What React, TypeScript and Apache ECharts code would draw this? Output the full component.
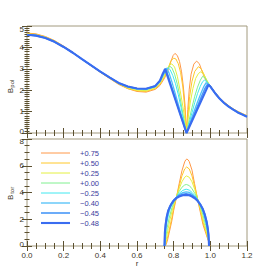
import React, { useEffect, useRef } from 'react';
import * as echarts from 'echarts';

const names = ['+0.75', '+0.50', '+0.25', '+0.00', '\u22120.25', '\u22120.40', '\u22120.45', '\u22120.48'];
const colors = ['#ff9848', '#ffc828', '#e4f040', '#80f090', '#40e8f0', '#50c0f8', '#4898f8', '#3a6cf0'];
const widths = [1, 1, 1, 1, 1, 1.3, 1.6, 2.1];

const xTickValues = [0, 0.2, 0.4, 0.6, 0.8, 1.0, 1.2];

// shared r samples for the smooth inner and outer parts of B_pol
const rInner = [0, 0.05, 0.1, 0.15, 0.2, 0.25, 0.3, 0.35, 0.4, 0.45, 0.5, 0.55, 0.6, 0.65, 0.7];
const rOuter = [1.025, 1.05, 1.075, 1.1, 1.125, 1.15, 1.175, 1.2];

const bpolInnerP075 = [4.67, 4.63, 4.51, 4.32, 4.06, 3.77, 3.45, 3.14, 2.84, 2.55, 2.27, 2.07, 1.94, 1.91, 2.04];
const bpolInnerP050 = [4.65, 4.61, 4.49, 4.31, 4.05, 3.77, 3.45, 3.14, 2.84, 2.56, 2.29, 2.08, 1.97, 1.94, 2.08];
const bpolInnerP025 = [4.63, 4.59, 4.48, 4.29, 4.04, 3.76, 3.45, 3.15, 2.85, 2.58, 2.30, 2.11, 2.00, 1.98, 2.11];
const bpolInnerP000 = [4.61, 4.57, 4.46, 4.28, 4.03, 3.76, 3.45, 3.15, 2.86, 2.59, 2.32, 2.14, 2.04, 2.02, 2.15];
const bpolInnerM025 = [4.60, 4.56, 4.45, 4.27, 4.03, 3.75, 3.45, 3.16, 2.86, 2.59, 2.33, 2.15, 2.06, 2.04, 2.17];
const bpolInnerM040 = [4.59, 4.55, 4.44, 4.26, 4.02, 3.75, 3.45, 3.16, 2.87, 2.60, 2.33, 2.16, 2.07, 2.06, 2.18];
const bpolInnerM045 = [4.59, 4.55, 4.44, 4.26, 4.02, 3.75, 3.45, 3.16, 2.87, 2.60, 2.34, 2.17, 2.08, 2.07, 2.19];
const bpolInnerM048 = [4.59, 4.55, 4.44, 4.26, 4.02, 3.75, 3.45, 3.16, 2.87, 2.60, 2.34, 2.17, 2.08, 2.07, 2.20];

const bpolCoreP075 = [[0.725, 2.22], [0.75, 2.56], [0.77, 2.95], [0.785, 3.34], [0.797, 3.62], [0.807, 3.72], [0.82, 3.62], [0.832, 3.34], [0.843, 2.86], [0.853, 2.15], [0.862, 1.3], [0.87, 0], [0.877, 1.1], [0.885, 2.05], [0.895, 2.75], [0.91, 3.22], [0.925, 3.36], [0.94, 3.24], [0.955, 2.88], [0.97, 2.55], [0.985, 2.33], [1.0, 2.21]];
const bpolCoreP050 = [[0.725, 2.27], [0.75, 2.63], [0.77, 3.03], [0.785, 3.37], [0.8, 3.5], [0.812, 3.46], [0.825, 3.24], [0.838, 2.82], [0.85, 2.15], [0.86, 1.2], [0.87, 0], [0.878, 0.85], [0.887, 1.7], [0.9, 2.42], [0.915, 2.88], [0.935, 3.1], [0.95, 3.0], [0.965, 2.75], [0.98, 2.44], [0.993, 2.25], [1.0, 2.19]];
const bpolCoreP025 = [[0.725, 2.31], [0.75, 2.7], [0.765, 3.0], [0.78, 3.2], [0.79, 3.23], [0.805, 3.08], [0.82, 2.65], [0.835, 2.0], [0.85, 1.25], [0.86, 0.7], [0.87, 0], [0.88, 0.75], [0.89, 1.4], [0.905, 2.08], [0.92, 2.55], [0.935, 2.78], [0.948, 2.86], [0.962, 2.77], [0.978, 2.52], [0.993, 2.29], [1.0, 2.2]];
const bpolCoreP000 = [[0.725, 2.36], [0.745, 2.69], [0.762, 2.96], [0.778, 3.12], [0.79, 3.05], [0.805, 2.75], [0.82, 2.28], [0.835, 1.65], [0.85, 0.9], [0.87, 0], [0.885, 0.62], [0.9, 1.2], [0.915, 1.72], [0.93, 2.14], [0.945, 2.46], [0.958, 2.65], [0.972, 2.57], [0.985, 2.37], [0.997, 2.22], [1.0, 2.19]];
const bpolCoreM025 = [[0.725, 2.39], [0.745, 2.74], [0.758, 2.96], [0.768, 3.05], [0.78, 2.97], [0.795, 2.69], [0.81, 2.3], [0.825, 1.8], [0.84, 1.2], [0.855, 0.55], [0.87, 0], [0.885, 0.48], [0.9, 0.95], [0.915, 1.42], [0.93, 1.84], [0.945, 2.18], [0.958, 2.4], [0.968, 2.47], [0.98, 2.4], [0.992, 2.25], [1.0, 2.19]];
const bpolCoreM040 = [[0.725, 2.41], [0.745, 2.77], [0.755, 2.96], [0.761, 3.03], [0.775, 2.8], [0.79, 2.4], [0.81, 1.8], [0.83, 1.2], [0.85, 0.6], [0.87, 0], [0.89, 0.5], [0.91, 0.98], [0.93, 1.45], [0.95, 1.88], [0.965, 2.18], [0.977, 2.35], [0.988, 2.29], [1.0, 2.18]];
const bpolCoreM045 = [[0.725, 2.43], [0.74, 2.72], [0.75, 2.9], [0.756, 3.0], [0.77, 2.66], [0.79, 2.12], [0.81, 1.58], [0.83, 1.05], [0.85, 0.52], [0.87, 0], [0.89, 0.42], [0.91, 0.83], [0.93, 1.25], [0.95, 1.67], [0.97, 2.07], [0.985, 2.28], [0.993, 2.23], [1.0, 2.18]];
const bpolCoreM048 = [[0.725, 2.45], [0.74, 2.76], [0.748, 2.9], [0.753, 3.0], [0.87, 0], [0.99, 2.25], [1.0, 2.17]];

const bpolOuterP075 = [1.91, 1.66, 1.45, 1.28, 1.13, 1.01, 0.91, 0.81];
const bpolOuterP050 = [1.90, 1.65, 1.44, 1.27, 1.12, 1.00, 0.90, 0.80];
const bpolOuterP025 = [1.89, 1.64, 1.43, 1.26, 1.11, 0.99, 0.89, 0.79];
const bpolOuterP000 = [1.88, 1.63, 1.42, 1.25, 1.11, 0.98, 0.88, 0.78];
const bpolOuterM025 = [1.88, 1.62, 1.41, 1.24, 1.10, 0.97, 0.87, 0.77];
const bpolOuterM040 = [1.88, 1.62, 1.41, 1.24, 1.10, 0.97, 0.87, 0.77];
const bpolOuterM045 = [1.87, 1.61, 1.40, 1.23, 1.09, 0.96, 0.86, 0.76];
const bpolOuterM048 = [1.87, 1.61, 1.40, 1.23, 1.09, 0.96, 0.86, 0.76];

const btorP075 = [[0.755, 0], [0.765, 0.35], [0.775, 0.95], [0.79, 1.88], [0.8, 2.65], [0.815, 3.62], [0.83, 4.66], [0.845, 5.62], [0.86, 6.29], [0.866, 6.44], [0.872, 6.5], [0.878, 6.45], [0.885, 6.31], [0.9, 5.67], [0.914, 4.66], [0.929, 3.6], [0.945, 2.55], [0.96, 1.59], [0.976, 0.92], [0.99, 0.35], [0.998, 0]];
const btorP050 = [[0.754, 0], [0.765, 0.55], [0.775, 1.15], [0.79, 2.12], [0.8, 2.84], [0.815, 3.65], [0.83, 4.47], [0.845, 5.24], [0.86, 5.76], [0.871, 5.91], [0.885, 5.76], [0.9, 5.24], [0.915, 4.42], [0.929, 3.6], [0.945, 2.69], [0.96, 1.78], [0.976, 1.03], [0.99, 0.4], [0.997, 0]];
const btorP025 = [[0.753, 0], [0.76, 0.5], [0.77, 1.3], [0.78, 1.97], [0.79, 2.55], [0.8, 3.08], [0.815, 3.68], [0.83, 4.28], [0.845, 4.8], [0.86, 5.14], [0.87, 5.24], [0.885, 5.14], [0.9, 4.8], [0.915, 4.23], [0.929, 3.6], [0.945, 2.84], [0.96, 2.02], [0.975, 1.25], [0.988, 0.55], [0.996, 0]];
const btorP000 = [[0.752, 0], [0.758, 0.7], [0.765, 1.4], [0.775, 2.07], [0.79, 2.84], [0.8, 3.22], [0.815, 3.68], [0.83, 4.08], [0.845, 4.39], [0.86, 4.56], [0.869, 4.6], [0.885, 4.52], [0.9, 4.28], [0.915, 3.94], [0.929, 3.56], [0.945, 2.98], [0.96, 2.31], [0.975, 1.54], [0.986, 0.87], [0.995, 0]];
const btorM025 = [[0.751, 0], [0.755, 0.9], [0.762, 1.7], [0.772, 2.36], [0.785, 2.98], [0.8, 3.36], [0.815, 3.66], [0.83, 3.94], [0.85, 4.16], [0.868, 4.25], [0.885, 4.18], [0.9, 4.01], [0.915, 3.78], [0.929, 3.51], [0.945, 3.08], [0.96, 2.55], [0.972, 1.97], [0.982, 1.35], [0.99, 0.72], [0.994, 0]];
const btorM040 = [[0.75, 0], [0.753, 0.95], [0.758, 1.59], [0.765, 2.17], [0.775, 2.69], [0.79, 3.12], [0.8, 3.39], [0.815, 3.63], [0.83, 3.84], [0.85, 3.99], [0.868, 4.05], [0.885, 4.01], [0.9, 3.87], [0.915, 3.68], [0.929, 3.46], [0.945, 3.1], [0.958, 2.69], [0.97, 2.17], [0.98, 1.59], [0.988, 0.97], [0.993, 0]];
const btorM045 = [[0.75, 0], [0.752, 1.0], [0.756, 1.59], [0.762, 2.17], [0.77, 2.65], [0.78, 2.98], [0.79, 3.22], [0.8, 3.43], [0.815, 3.63], [0.83, 3.78], [0.85, 3.87], [0.868, 3.91], [0.885, 3.87], [0.9, 3.78], [0.915, 3.64], [0.93, 3.43], [0.945, 3.14], [0.958, 2.82], [0.97, 2.36], [0.98, 1.83], [0.986, 1.35], [0.99, 0.87], [0.993, 0]];
const btorM048 = [[0.75, 0], [0.752, 1.0], [0.756, 1.59], [0.762, 2.17], [0.77, 2.63], [0.78, 2.95], [0.79, 3.19], [0.8, 3.39], [0.815, 3.58], [0.83, 3.7], [0.85, 3.79], [0.866, 3.82], [0.885, 3.79], [0.9, 3.7], [0.915, 3.57], [0.93, 3.38], [0.945, 3.1], [0.958, 2.79], [0.97, 2.34], [0.98, 1.8], [0.986, 1.32], [0.99, 0.84], [0.993, 0]];

const bpolInner = [bpolInnerP075, bpolInnerP050, bpolInnerP025, bpolInnerP000, bpolInnerM025, bpolInnerM040, bpolInnerM045, bpolInnerM048];
const bpolCore = [bpolCoreP075, bpolCoreP050, bpolCoreP025, bpolCoreP000, bpolCoreM025, bpolCoreM040, bpolCoreM045, bpolCoreM048];
const bpolOuter = [bpolOuterP075, bpolOuterP050, bpolOuterP025, bpolOuterP000, bpolOuterM025, bpolOuterM040, bpolOuterM045, bpolOuterM048];
const btor = [btorP075, btorP050, btorP025, btorP000, btorM025, btorM040, btorM045, btorM048];

const FONT = '"Liberation Sans", Arial, sans-serif';
const LABEL = '#40382a';
const TICK = '#5c5030';
const FRAME = '#a29a7e';
const LEGEND_TEXT = '#3c3c9c';

function joinPol(i: number) {
  return [
    ...rInner.map((r, k) => [r, bpolInner[i][k]]),
    ...bpolCore[i],
    ...rOuter.map((r, k) => [r, bpolOuter[i][k]]),
  ];
}

function xAx(grid: number, pos: 'top' | 'bottom', labels: boolean) {
  return {
    type: 'value', gridIndex: grid, position: pos, min: 0, max: 1.2, interval: 0.2,
    axisLine: { show: false },
    axisTick: { show: true, inside: true, length: 5, lineStyle: { color: TICK, width: 1 } },
    minorTick: { show: true, splitNumber: 4, length: 3, lineStyle: { color: TICK, width: 1 } },
    splitLine: { show: false },
    axisLabel: {
      show: labels, fontSize: 8, fontFamily: FONT, color: LABEL, margin: 5,
      formatter: (v: number) => (xTickValues.includes(Math.round(v * 10) / 10) ? v.toFixed(1) : ''),
    },
  };
}

function yAx(grid: number, pos: 'left' | 'right', max: number, interval: number, minor: number, labels: boolean) {
  return {
    type: 'value', gridIndex: grid, position: pos, min: 0, max, interval,
    axisLine: { show: false },
    axisTick: { show: true, inside: true, length: 5, lineStyle: { color: TICK, width: 1 } },
    minorTick: { show: true, splitNumber: minor, length: 2.5, lineStyle: { color: TICK, width: 1 } },
    splitLine: { show: false },
    axisLabel: {
      show: labels, fontSize: 8, fontFamily: FONT, color: LABEL, margin: 3,
      formatter: (v: number) => (v === 0 ? '{lo|0}' : v === max ? '{hi|' + v + '}' : String(v)),
      rich: {
        lo: { fontSize: 8, fontFamily: FONT, color: LABEL, padding: [0, 0, 4, 0] },
        hi: { fontSize: 8, fontFamily: FONT, color: LABEL, padding: [max === 5 ? 6 : 5, 0, 0, 0] },
      },
    },
  };
}

export default function App() {
  const ref = useRef<HTMLDivElement>(null);
  useEffect(() => {
    if (!ref.current) return;
    const chart = echarts.init(ref.current, undefined, { renderer: 'svg' });
    const series: any[] = [];
    names.forEach((n, i) => {
      series.push({
        type: 'line', name: n, xAxisIndex: 0, yAxisIndex: 0, data: joinPol(i),
        symbol: 'none', showSymbol: false, silent: true, z: 2 + i,
        lineStyle: { color: colors[i], width: widths[i] },
      });
    });
    names.forEach((n, i) => {
      series.push({
        type: 'line', name: n, xAxisIndex: 2, yAxisIndex: 2, data: btor[i],
        symbol: 'none', showSymbol: false, silent: true, z: 2 + i,
        lineStyle: { color: colors[i], width: widths[i] },
      });
    });
    const graphic: any[] = [];
    names.forEach((n, i) => {
      const y = 153 + 10 * i;
      graphic.push({ type: 'line', shape: { x1: 41, y1: y, x2: 70, y2: y }, style: { stroke: colors[i], lineWidth: widths[i] }, silent: true });
      graphic.push({ type: 'text', x: 80, y, style: { text: n, fill: LEGEND_TEXT, fontSize: 7.5, fontFamily: FONT, align: 'left', verticalAlign: 'middle' }, silent: true });
    });
    const axisName = (main: string, sub: string, cx: number, cy: number) => [
      { type: 'text', x: cx, y: cy, rotation: Math.PI / 2, style: { text: main, fill: LABEL, fontSize: 8, fontFamily: FONT, align: 'center', verticalAlign: 'middle' } },
      { type: 'text', x: cx + 1.6, y: cy - 7, rotation: Math.PI / 2, style: { text: sub, fill: LABEL, fontSize: 6, fontFamily: FONT, align: 'center', verticalAlign: 'middle' } },
    ];
    graphic.push(...axisName('B', 'pol', 10.8, 90.7));
    graphic.push(...axisName('B', 'tor', 10.8, 197.3));
    graphic.push({ type: 'text', x: 137, y: 263, style: { text: 'r', fill: LABEL, fontSize: 8, fontFamily: FONT, align: 'center', verticalAlign: 'middle' } });

    chart.setOption({
      animation: false,
      backgroundColor: '#ffffff',
      grid: [
        { left: 27, top: 26, width: 220, height: 107, show: true, borderColor: FRAME, borderWidth: 1, backgroundColor: 'transparent' },
        { left: 27, top: 139, width: 220, height: 107, show: true, borderColor: FRAME, borderWidth: 1, backgroundColor: 'transparent' },
      ],
      xAxis: [xAx(0, 'bottom', false), xAx(0, 'top', false), xAx(1, 'bottom', true), xAx(1, 'top', false)],
      yAxis: [yAx(0, 'left', 5, 1, 10, true), yAx(0, 'right', 5, 1, 10, false), yAx(1, 'left', 8, 2, 4, true), yAx(1, 'right', 8, 2, 4, false)],
      series,
      graphic,
    });
    return () => chart.dispose();
  }, []);
  return <div ref={ref} style={{ position: 'absolute', left: 0, top: 0, width: 274, height: 274 }} />;
}
